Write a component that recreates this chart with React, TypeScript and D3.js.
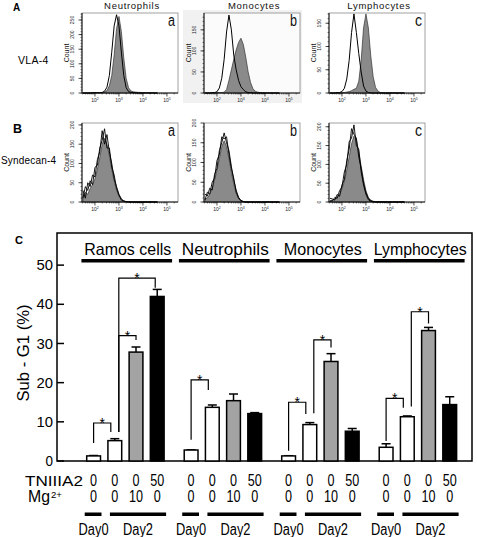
import React from "react";
import * as d3 from "d3";

// ---------------- Panels A / B : flow cytometry histograms ----------------
const histCellTypes = ["Neutrophils", "Monocytes", "Lymphocytes"];
const histPanelLetters = ["a", "b", "c"];
const histRowLabels = ["VLA-4", "Syndecan-4"];
const histRowLetters = ["A", "B"];
const histXTicks = [2, 3, 4, 5];
const histXDomain = [1.46, 5.46];
const histBins = [1.5, 1.6, 1.7, 1.8, 1.9, 2.0, 2.1, 2.2, 2.3, 2.4, 2.5, 2.6, 2.7, 2.8, 2.9, 3.0, 3.1, 3.2, 3.3, 3.4, 3.5, 3.6, 3.7, 3.8, 3.9, 4.0, 4.1, 4.2, 4.3, 4.4, 4.5, 4.6];

const vla4YMax = [274, 190, 172];
const syn4YMax = [205, 200, 210];
const vla4YTicks = [[0, 50, 100, 150, 200, 250], [0, 50, 100, 150], [0, 50, 100, 150]];
const syn4YTicks = [[0, 50, 100, 150, 200], [0, 50, 100, 150, 200], [0, 50, 100, 150, 200]];

const vla4NeutIso = [0, 0, 0, 0, 1, 1, 1, 1, 2, 6, 20, 60, 140, 230, 268, 230, 140, 60, 18, 5, 2, 1, 1, 0, 0, 0, 0, 0, 0, 0, 0, 0];
const vla4NeutStain = [0, 0, 0, 0, 1, 1, 1, 1, 1, 3, 8, 25, 60, 130, 220, 262, 210, 120, 50, 18, 7, 4, 3, 2, 2, 1, 1, 1, 1, 1, 0, 0];
const vla4MonoIso = [0, 0, 0, 1, 1, 3, 12, 35, 80, 145, 185, 150, 90, 55, 30, 15, 8, 3, 1, 1, 0, 0, 0, 0, 0, 0, 0, 0, 0, 0, 0, 0];
const vla4MonoStain = [0, 0, 0, 0, 0, 1, 1, 1, 2, 8, 30, 55, 80, 102, 120, 130, 115, 85, 50, 25, 10, 4, 2, 1, 1, 0, 0, 0, 0, 0, 0, 0];
const vla4LymphIso = [0, 0, 0, 1, 1, 3, 10, 30, 70, 130, 170, 130, 85, 45, 15, 4, 1, 0, 0, 0, 0, 0, 0, 0, 0, 0, 0, 0, 0, 0, 0, 0];
const vla4LymphStain = [0, 0, 0, 0, 0, 1, 1, 2, 3, 5, 8, 10, 25, 70, 140, 170, 140, 80, 35, 12, 4, 1, 1, 0, 0, 0, 0, 0, 0, 0, 0, 0];

const syn4NeutStain = [15, 25, 20, 35, 45, 60, 85, 115, 150, 165, 150, 120, 85, 55, 30, 15, 6, 2, 1, 1, 0, 0, 0, 0, 0, 0, 0, 0, 0, 0, 0, 0];
const syn4NeutLineA = [30, 10, 50, 40, 70, 65, 110, 130, 185, 150, 175, 130, 100, 60, 40, 20, 8, 3, 1, 0, 0, 0, 0, 0, 0, 0, 0, 0, 0, 0, 0, 0];
const syn4NeutLineB = [10, 40, 30, 55, 45, 90, 95, 140, 160, 190, 140, 140, 90, 70, 35, 18, 5, 2, 1, 0, 0, 0, 0, 0, 0, 0, 0, 0, 0, 0, 0, 0];
const syn4MonoStain = [8, 10, 20, 35, 55, 80, 110, 140, 155, 140, 110, 75, 45, 22, 8, 3, 1, 0, 0, 0, 0, 0, 0, 0, 0, 0, 0, 0, 0, 0, 0, 0];
const syn4MonoLineA = [20, 15, 35, 30, 70, 85, 130, 150, 175, 150, 130, 90, 55, 30, 12, 4, 1, 0, 0, 0, 0, 0, 0, 0, 0, 0, 0, 0, 0, 0, 0, 0];
const syn4MonoLineB = [5, 25, 20, 50, 60, 105, 120, 165, 160, 165, 120, 85, 60, 25, 10, 3, 1, 0, 0, 0, 0, 0, 0, 0, 0, 0, 0, 0, 0, 0, 0, 0];
const syn4LymphStain = [3, 5, 8, 12, 20, 35, 55, 85, 120, 155, 175, 165, 135, 95, 60, 30, 12, 5, 2, 1, 1, 1, 1, 1, 0, 0, 0, 0, 0, 0, 0, 0];
const syn4LymphLineA = [10, 8, 5, 20, 15, 45, 60, 110, 140, 195, 180, 170, 120, 90, 50, 25, 10, 3, 1, 0, 0, 0, 0, 0, 0, 0, 0, 0, 0, 0, 0, 0];
const syn4LymphLineB = [2, 3, 12, 10, 30, 40, 80, 100, 160, 170, 205, 150, 140, 80, 45, 20, 6, 2, 1, 0, 0, 0, 0, 0, 0, 0, 0, 0, 0, 0, 0, 0];

// ---------------- Panel C : Sub-G1 bar chart ----------------
const groups = ["Ramos cells", "Neutrophils", "Monocytes", "Lymphocytes"];
const conditions = [0, 1, 2, 3];
const ramosValues = [1.3, 5.2, 27.8, 42.0];
const ramosErrors = [0.1, 0.5, 1.3, 1.8];
const neutroValues = [2.8, 13.7, 15.4, 12.1];
const neutroErrors = [0.05, 0.6, 1.7, 0.25];
const monoValues = [1.3, 9.3, 25.4, 7.6];
const monoErrors = [0.05, 0.5, 2.0, 0.7];
const lymphoValues = [3.5, 11.3, 33.3, 14.4];
const lymphoErrors = [0.9, 0.2, 0.8, 2.0];
const tn3a2Labels = ["0", "0", "0", "50"];
const mgLabels = ["0", "0", "10", "0"];
const dayLabels = ["Day0", "Day2"];
const yTicksC = [0, 10, 20, 30, 40, 50];
const ramosBrackets = [
  { from: 0, to: 1, top: 9.7, l: 4.6, r: 7.4 },
  { from: 1, to: 2, top: 32.0, l: 7.4, r: 30.9 },
  { from: 1, to: 3, top: 46.7, l: 7.4, r: 44.2 },
];
const neutroBrackets = [{ from: 0, to: 1, top: 20.7, l: 5.4, r: 18.1 }];
const monoBrackets = [
  { from: 0, to: 1, top: 15.0, l: 2.6, r: 12.0 },
  { from: 1, to: 2, top: 30.9, l: 12.2, r: 29.0 },
];
const lymphoBrackets = [
  { from: 0, to: 1, top: 16.0, l: 5.1, r: 13.6 },
  { from: 1, to: 2, top: 38.1, l: 13.9, r: 35.1 },
];

const groupValues = [ramosValues, neutroValues, monoValues, lymphoValues];
const groupErrors = [ramosErrors, neutroErrors, monoErrors, lymphoErrors];
const groupBrackets = [ramosBrackets, neutroBrackets, monoBrackets, lymphoBrackets];

// ---------------- styles / layout ----------------
const FONT = '"Liberation Sans", Arial, sans-serif';
const barFills = ["#ffffff", "#ffffff", "#a3a3a3", "#000000"];
const histGray = "#8a8a8a";
const histCols = [82, 204, 329];
const histW = 96;
const histRowTop = [13, 123];
const histRowH = [80, 79];
const groupTitleWidths = [87, 87, 78, 93];
const digitW = 7.0;

type Pt = [number, number];

function HistPanel(props: any) {
  const { x0, y0, w, h, yMax, yTicks, iso, stain, lines, title, letter, shade } = props;
  const x = d3.scaleLinear().domain(histXDomain).range([x0, x0 + w]);
  const y = d3.scaleLinear().domain([0, yMax]).range([y0 + h, y0]);
  const pts = (arr: number[]): Pt[] => histBins.map((b, i) => [b, Math.min(arr[i], yMax)] as Pt);
  const area = d3.area<Pt>().x((d) => x(d[0])).y0(y0 + h).y1((d) => y(d[1]));
  const line = d3.line<Pt>().x((d) => x(d[0])).y((d) => y(d[1]));
  const minorX: number[] = [];
  for (let dec = 1; dec <= 5; dec++)
    for (let k = 2; k <= 9; k++) {
      const v = dec + Math.log10(k);
      if (v > histXDomain[0] && v < histXDomain[1]) minorX.push(v);
    }
  const minorY = d3.range(0, yMax, 10);
  const yb = y0 + h;
  return (
    <g>
      {shade && <rect x={x0 - 21} y={y0 - 3} width={w + 23} height={h + 13} fill="#f1f1f1" />}
      <rect x={x0} y={y0} width={w} height={h} fill={shade ? "#fbfbfb" : "white"} stroke="#8a8a8a" strokeWidth={0.8} />
      {iso && <path d={area(pts(iso)) || ""} fill="white" />}
      <path d={area(pts(stain)) || ""} fill={histGray} stroke="#333" strokeWidth={0.7} />
      {iso && <path d={line(pts(iso)) || ""} fill="none" stroke="#000" strokeWidth={1} />}
      {lines && lines.map((l: number[], i: number) => (
        <path key={i} d={line(pts(l)) || ""} fill="none" stroke="#000" strokeWidth={0.9} strokeLinejoin="round" />
      ))}
      <line x1={x0} x2={x0} y1={y0} y2={yb} stroke="#000" strokeWidth={0.9} />
      <line x1={x0} x2={x0 + w} y1={yb} y2={yb} stroke="#000" strokeWidth={0.9} />
      {minorX.map((v, i) => (
        <line key={"mx" + i} x1={x(v)} x2={x(v)} y1={yb} y2={yb + 1.5} stroke="#000" strokeWidth={0.5} />
      ))}
      {histXTicks.map((t) => (
        <g key={"xt" + t}>
          <line x1={x(t)} x2={x(t)} y1={yb} y2={yb + 3.5} stroke="#000" strokeWidth={0.7} />
          <text x={x(t)} y={yb + 9} fontSize={5} fontFamily={FONT} textAnchor="middle" fill="#222">
            10<tspan dy={-2} fontSize={3.5}>{t}</tspan>
          </text>
        </g>
      ))}
      {minorY.map((v, i) => (
        <line key={"my" + i} x1={x0 - 1.5} x2={x0} y1={y(v)} y2={y(v)} stroke="#000" strokeWidth={0.5} />
      ))}
      {yTicks.map((t: number) => (
        <g key={"yt" + t}>
          <line x1={x0 - 3.5} x2={x0} y1={y(t)} y2={y(t)} stroke="#000" strokeWidth={0.7} />
          <text transform={`translate(${x0 - 8.5},${y(t)}) rotate(-90)`} fontSize={5} fontFamily={FONT} textAnchor="middle" fill="#222">
            {t}
          </text>
        </g>
      ))}
      <text transform={`translate(${x0 - 13.5},${y0 + h / 2}) rotate(-90)`} fontSize={7} fontFamily={FONT} textAnchor="middle" fill="#111">
        Count
      </text>
      <text x={x0 + w - 3} y={y0 + 12.5} fontSize={16} fontFamily={FONT} textAnchor="end" fill="#111"
        textLength={7} lengthAdjust="spacingAndGlyphs">
        {letter}
      </text>
      {title && (
        <text x={x0 + w / 2 + 2} y={8.5} fontSize={9.5} letterSpacing={0.7} fontFamily={FONT} textAnchor="middle" fill="#111">
          {title}
        </text>
      )}
    </g>
  );
}

function NText(props: any) {
  const { width, children, ...rest } = props;
  return (
    <text {...rest} fontFamily={FONT} fill="#000" textLength={width} lengthAdjust="spacingAndGlyphs">
      {children}
    </text>
  );
}

function BarPanel() {
  const y = d3.scaleLinear().domain([0, 58.2]).range([461, 233]);
  const gx = d3.scaleBand<string>().domain(groups).range([78, 468]).paddingInner(0.07).paddingOuter(0.035);
  const bx = d3.scaleBand<number>().domain(conditions).range([0, 88]).paddingInner(0.35).paddingOuter(0.25);
  const bw = bx.bandwidth();
  const axX = 57, axR = 472, axTop = 233, axBot = y(0);
  return (
    <g>
      <text x={15} y={244} fontSize={11} fontWeight="bold" fontFamily={FONT}>C</text>
      <path d={`M${axX},${axTop}H${axR}V${axBot}H${axX}Z`} fill="none" stroke="#000" strokeWidth={1.5} />
      {yTicksC.map((t) => (
        <g key={t}>
          <line x1={axX} x2={axX + 7} y1={y(t)} y2={y(t)} stroke="#000" strokeWidth={1.5} />
          <NText x={axX - 4} y={y(t)} dy="0.36em" fontSize={14} textAnchor="end" width={String(t).length * 7.5 + (t > 0 ? 1.5 : 0)}>
            {t}
          </NText>
        </g>
      ))}
      <NText transform={`translate(29,353) rotate(-90)`} fontSize={16} textAnchor="middle" width={97}>
        Sub - G1 (%)
      </NText>
      {groups.map((g, gi) => {
        const g0 = gx(g) as number;
        const cx = (i: number) => g0 + (bx(i) as number) + bw / 2;
        const vals = groupValues[gi];
        const errs = groupErrors[gi];
        return (
          <g key={g}>
            <NText x={g0 + gx.bandwidth() / 2 + 1} y={255} fontSize={16.5} textAnchor="middle" width={groupTitleWidths[gi]}>
              {g}
            </NText>
            <rect x={g0} y={259} width={gx.bandwidth()} height={3.5} fill="#000" />
            {conditions.map((c) => {
              const bxp = g0 + (bx(c) as number);
              const top = y(vals[c]);
              const et = y(vals[c] + errs[c]);
              return (
                <g key={c}>
                  <line x1={cx(c)} x2={cx(c)} y1={top} y2={et} stroke="#000" strokeWidth={1.5} />
                  <line x1={cx(c) - 4.5} x2={cx(c) + 4.5} y1={et} y2={et} stroke="#000" strokeWidth={1.5} />
                  <rect x={bxp} y={top} width={bw} height={axBot - top} fill={barFills[c]} stroke="#000" strokeWidth={1.5} />
                  <NText x={cx(c)} y={486} fontSize={16} textAnchor="middle" width={tn3a2Labels[c].length * digitW}>
                    {tn3a2Labels[c]}
                  </NText>
                  <NText x={cx(c)} y={502} fontSize={16} textAnchor="middle" width={mgLabels[c].length * digitW}>
                    {mgLabels[c]}
                  </NText>
                </g>
              );
            })}
            {groupBrackets[gi].map((b, bi) => {
              const lx = cx(b.from) + (b.from === 1 ? 4 : 0);
              const rx = cx(b.to) - (b.to === 1 ? 4 : b.to === 3 ? 2 : 0);
              const ty = y(b.top);
              return (
                <g key={"br" + bi}>
                  <path d={`M${lx},${y(b.l)}V${ty}H${rx}V${y(b.r)}`} fill="none" stroke="#000" strokeWidth={1.2} />
                  <text x={(lx + rx) / 2} y={ty + 5} fontSize={14} fontFamily={FONT} fill="#000" textAnchor="middle">*</text>
                </g>
              );
            })}
            <rect x={g0 + (bx(0) as number) - 2} y={512.5} width={bw + 3} height={3.5} fill="#000" />
            <rect x={g0 + (bx(1) as number) + 2} y={512.5} width={(bx(3) as number) - (bx(1) as number) + bw} height={3.5} fill="#000" />
            <NText x={cx(0)} y={535} fontSize={16} textAnchor="middle" width={30}>{dayLabels[0]}</NText>
            <NText x={(cx(1) + cx(3)) / 2 + 2} y={535} fontSize={16} textAnchor="middle" width={30}>{dayLabels[1]}</NText>
          </g>
        );
      })}
      <NText x={25} y={485.5} fontSize={15.5} width={58}>TNIIIA2</NText>
      <NText x={28} y={502} fontSize={16} width={22}>Mg</NText>
      <NText x={51} y={497.5} fontSize={8.5} width={11}>2+</NText>
    </g>
  );
}

export default function App() {
  const vlaIso = [vla4NeutIso, vla4MonoIso, vla4LymphIso];
  const vlaStain = [vla4NeutStain, vla4MonoStain, vla4LymphStain];
  const synStain = [syn4NeutStain, syn4MonoStain, syn4LymphStain];
  const synLines = [[syn4NeutLineA, syn4NeutLineB], [syn4MonoLineA, syn4MonoLineB], [syn4LymphLineA, syn4LymphLineB]];
  return (
    <svg width={477} height={537} style={{ position: "absolute", left: 0, top: 0, background: "white" }}>
      <rect width={477} height={537} fill="white" />
      <text x={13} y={10.5} fontSize={10} fontWeight="bold" fontFamily={FONT}>{histRowLetters[0]}</text>
      <text x={18} y={64} fontSize={10.5} letterSpacing={0.3} fontFamily={FONT}>{histRowLabels[0]}</text>
      <text x={13} y={133} fontSize={12.5} fontWeight="bold" fontFamily={FONT}>{histRowLetters[1]}</text>
      <text x={1} y={164} fontSize={10} letterSpacing={0.2} fontFamily={FONT}>{histRowLabels[1]}</text>
      {histCols.map((cx, i) => (
        <HistPanel key={"a" + i} x0={cx} y0={histRowTop[0]} w={histW} h={histRowH[0]} yMax={vla4YMax[i]} yTicks={vla4YTicks[i]}
          iso={vlaIso[i]} stain={vlaStain[i]} title={histCellTypes[i]} letter={histPanelLetters[i]} shade={i === 1} />
      ))}
      {histCols.map((cx, i) => (
        <HistPanel key={"b" + i} x0={cx} y0={histRowTop[1]} w={histW} h={histRowH[1]} yMax={syn4YMax[i]} yTicks={syn4YTicks[i]}
          stain={synStain[i]} lines={synLines[i]} letter={histPanelLetters[i]} />
      ))}
      <BarPanel />
    </svg>
  );
}
